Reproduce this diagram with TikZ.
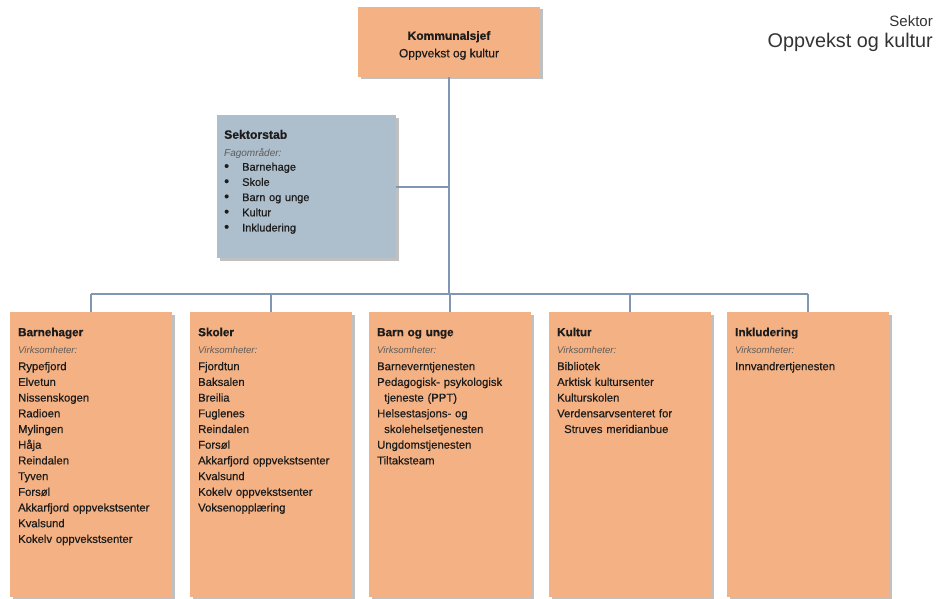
\documentclass[tikz,border=0pt]{standalone}
\usepackage{fontspec}
\setmainfont{Liberation Sans}
\newfontfamily\medfont{Liberation Sans}[FakeBold=0.5]
\usetikzlibrary{shadows,positioning}

\definecolor{boxorange}{HTML}{F4B183}
\definecolor{stabblue}{HTML}{ADBECC}
\definecolor{linkblue}{HTML}{7F97B2}
\definecolor{inktext}{HTML}{1C1C1C}
\definecolor{mutedtext}{HTML}{5C5C5C}

\tikzset{
  orgbox/.style={fill=boxorange, draw=none, inner sep=0pt, anchor=north west,
    minimum width=162pt, minimum height=285pt,
    drop shadow={shadow xshift=2.5pt, shadow yshift=-2.5pt, opacity=0.45, fill=black!55}},
  stabbox/.style={orgbox, fill=stabblue, minimum width=179pt, minimum height=143pt},
  chiefbox/.style={orgbox, anchor=center, minimum width=182pt, minimum height=70pt},
  boxtext/.style={inner sep=0pt, anchor=base west, text width=152pt, align=left, text=inktext,
    font=\medfont\fontsize{11.3}{15.7}\selectfont},
  conn/.style={draw=linkblue, line width=1.8pt},
}
\newcommand{\boxhead}[1]{{\fontsize{11.7}{15.7}\selectfont\bfseries #1}}
\newcommand{\virk}{{\normalfont\fontsize{9.6}{15.7}\selectfont\itshape\color{mutedtext}Virksomheter:}}
\newcommand{\stabitem}[1]{\makebox[18pt][l]{\fontsize{14}{15}\selectfont\textbullet}#1}

\begin{document}
\begin{tikzpicture}[x=1pt,y=-1pt]
\useasboundingbox (0,0) rectangle (938,599);
% header, top right
\node[inner sep=0pt, anchor=base east, text=black!80, font=\fontsize{15}{18}\selectfont] (sector-label) at (933,27) {Sektor};
\node[inner sep=0pt, anchor=base east, text=black!80, font=\fontsize{19.8}{22}\selectfont] (sector-name) at (933,48) {Oppvekst og kultur};
% top box
\node[chiefbox] (chief) at (449,42) {};
\node[inner sep=0pt, align=center, text=inktext, font=\medfont\fontsize{12}{17.5}\selectfont] (chief-txt)
  at ([yshift=-3.5pt]chief.center) {\textbf{Kommunalsjef}\\Oppvekst og kultur};
% staff box
\node[stabbox] (stab) at (217,115) {};
\node[boxtext, font=\medfont\fontsize{11}{15.2}\selectfont] (stab-txt) at ([xshift=7pt,yshift=-23.8pt]stab.north west)
  {{\fontsize{12.2}{15.2}\selectfont\bfseries Sektorstab}\\[2.5pt]
   {\normalfont\fontsize{10}{15.2}\selectfont\itshape\color{mutedtext}Fagområder:}\\[-1pt]
   \stabitem{Barnehage}\\
   \stabitem{Skole}\\
   \stabitem{Barn og unge}\\
   \stabitem{Kultur}\\
   \stabitem{Inkludering}};
% the five units
\node[orgbox] (barnehager) at (10,312) {};
\node[orgbox] (skoler) at (190,312) {};
\node[orgbox] (barnunge) at (369,312) {};
\node[orgbox] (kultur) at (549,312) {};
\node[orgbox] (inkludering) at (727,312) {};
% unit texts
\node[boxtext] (barnehager-txt) at ([xshift=8pt,yshift=-24.2pt]barnehager.north west)
  {\boxhead{Barnehager}\\[1.3pt] \virk\\[1.3pt]
   Rypefjord\\ Elvetun\\ Nissenskogen\\ Radioen\\ Mylingen\\ Håja\\ Reindalen\\ Tyven\\
   Forsøl\\ Akkarfjord oppvekstsenter\\ Kvalsund\\ Kokelv oppvekstsenter};
\node[boxtext] (skoler-txt) at ([xshift=8pt,yshift=-24.2pt]skoler.north west)
  {\boxhead{Skoler}\\[1.3pt] \virk\\[1.3pt]
   Fjordtun\\ Baksalen\\ Breilia\\ Fuglenes\\ Reindalen\\ Forsøl\\
   Akkarfjord oppvekstsenter\\ Kvalsund\\ Kokelv oppvekstsenter\\ Voksenopplæring};
\node[boxtext] (barnunge-txt) at ([xshift=8pt,yshift=-24.2pt]barnunge.north west)
  {\boxhead{Barn og unge}\\[1.3pt] \virk\\[1.3pt]
   Barneverntjenesten\\ Pedagogisk- psykologisk\\ \hspace*{7pt}tjeneste (PPT)\\
   Helsestasjons- og\\ \hspace*{7pt}skolehelsetjenesten\\ Ungdomstjenesten\\ Tiltaksteam};
\node[boxtext] (kultur-txt) at ([xshift=8pt,yshift=-24.2pt]kultur.north west)
  {\boxhead{Kultur}\\[1.3pt] \virk\\[1.3pt]
   Bibliotek\\ Arktisk kultursenter\\ Kulturskolen\\ Verdensarvsenteret for\\
   \hspace*{7pt}Struves meridianbue};
\node[boxtext] (inkludering-txt) at ([xshift=8pt,yshift=-24.2pt]inkludering.north west)
  {\boxhead{Inkludering}\\[1.3pt] \virk\\[1.3pt]
   Innvandrertjenesten};
% connectors
\coordinate (bus) at (0,294);
\draw[conn] (chief.south) -- (chief.south |- bus);
\draw[conn] (stab.east) -- (stab.east -| chief.south);
\draw[conn] (barnehager.north |- bus) -- (inkludering.north |- bus);
\foreach \unit in {barnehager,skoler,barnunge,kultur,inkludering}
  \draw[conn] (\unit.north |- bus) -- (\unit.north);
\end{tikzpicture}
\end{document}
